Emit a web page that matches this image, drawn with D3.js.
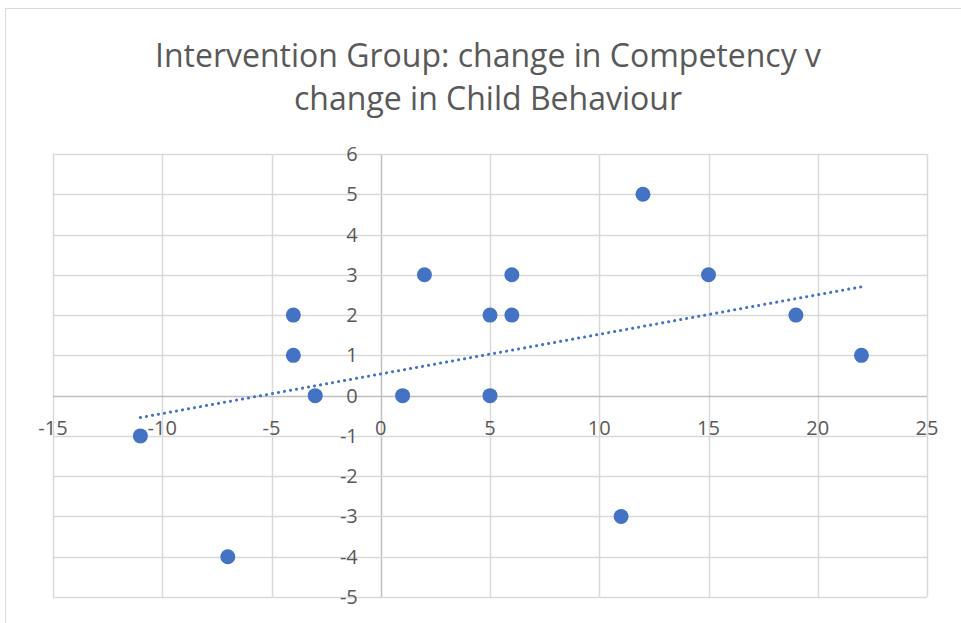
<!DOCTYPE html>
<html>
<head>
<meta charset="utf-8">
<script src="https://cdn.jsdelivr.net/npm/d3@7"></script>
<style>
  body { margin: 0; background: #fff; }
  text { font-family: "Open Sans", "Liberation Sans", sans-serif; fill: #595959; }
</style>
</head>
<body>
<div id="viz"></div>
<script>
const title_lines = ['Intervention Group: change in Competency v', 'change in Child Behaviour'];

// change in competency (x) v change in child behaviour (y)
const competency = [-11, -7, -4, -4, -3, 1, 2, 5, 5, 6, 6, 12, 11, 15, 19, 22];
const behaviour = [-1, -4, 2, 1, 0, 0, 3, 2, 0, 3, 2, 5, -3, 3, 2, 1];

const x_ticks = [-15, -10, -5, 0, 5, 10, 15, 20, 25];
const y_ticks = [-5, -4, -3, -2, -1, 0, 1, 2, 3, 4, 5, 6];

const width = 961;
const height = 623;
const plot = { left: 53, right: 927, top: 154, bottom: 597 };

const svg = d3.select('#viz').append('svg')
  .attr('width', width)
  .attr('height', height);

// chart border
svg.append('rect')
  .attr('x', 5.5).attr('y', 8.5)
  .attr('width', 1000).attr('height', 700)
  .attr('fill', '#fff')
  .attr('stroke', '#d9d9d9');

const x = d3.scaleLinear().domain([-15, 25]).range([plot.left, plot.right]);
const y = d3.scaleLinear().domain([-5, 6]).range([plot.bottom, plot.top]);

// title
svg.append('text')
  .attr('text-anchor', 'middle')
  .style('font-size', '32px')
  .selectAll('tspan')
  .data(title_lines)
  .join('tspan')
  .attr('x', 488)
  .attr('y', (d, i) => 67 + i * 43)
  .text(d => d);

// gridlines
svg.append('g')
  .selectAll('line')
  .data(x_ticks)
  .join('line')
  .attr('x1', d => Math.round(x(d)) + 0.5).attr('x2', d => Math.round(x(d)) + 0.5)
  .attr('y1', plot.top).attr('y2', plot.bottom)
  .attr('stroke', d => d === 0 ? '#bfbfbf' : '#d9d9d9')
  .attr('stroke-width', 1.5);

svg.append('g')
  .selectAll('line')
  .data(y_ticks)
  .join('line')
  .attr('x1', plot.left).attr('x2', plot.right)
  .attr('y1', d => Math.round(y(d)) + 0.5).attr('y2', d => Math.round(y(d)) + 0.5)
  .attr('stroke', d => d === 0 ? '#bfbfbf' : '#d9d9d9')
  .attr('stroke-width', 1.5);

// axis labels
svg.append('g')
  .selectAll('text')
  .data(x_ticks)
  .join('text')
  .attr('x', d => x(d))
  .attr('y', y(0) + 32)
  .attr('dy', '0.35em')
  .attr('text-anchor', 'middle')
  .style('font-size', '20px')
  .text(d => d);

svg.append('g')
  .selectAll('text')
  .data(y_ticks)
  .join('text')
  .attr('x', x(0) - 23)
  .attr('y', d => y(d))
  .attr('dy', '0.35em')
  .attr('text-anchor', 'end')
  .style('font-size', '20px')
  .text(d => d);

// linear trendline (least squares)
const points = competency.map((c, i) => [c, behaviour[i]]);
const mx = d3.mean(competency), my = d3.mean(behaviour);
const slope = d3.sum(points, p => (p[0] - mx) * (p[1] - my)) / d3.sum(points, p => (p[0] - mx) ** 2);
const intercept = my - slope * mx;
const ext = d3.extent(competency);

svg.append('line')
  .attr('x1', x(ext[0])).attr('y1', y(slope * ext[0] + intercept))
  .attr('x2', x(ext[1])).attr('y2', y(slope * ext[1] + intercept))
  .attr('stroke', '#4472c4')
  .attr('stroke-width', 3)
  .attr('stroke-linecap', 'round')
  .attr('stroke-dasharray', '0.1 6');

// markers
svg.append('g')
  .selectAll('circle')
  .data(points)
  .join('circle')
  .attr('cx', d => x(d[0]))
  .attr('cy', d => y(d[1]))
  .attr('r', 7.5)
  .attr('fill', '#4472c4');
</script>
</body>
</html>
